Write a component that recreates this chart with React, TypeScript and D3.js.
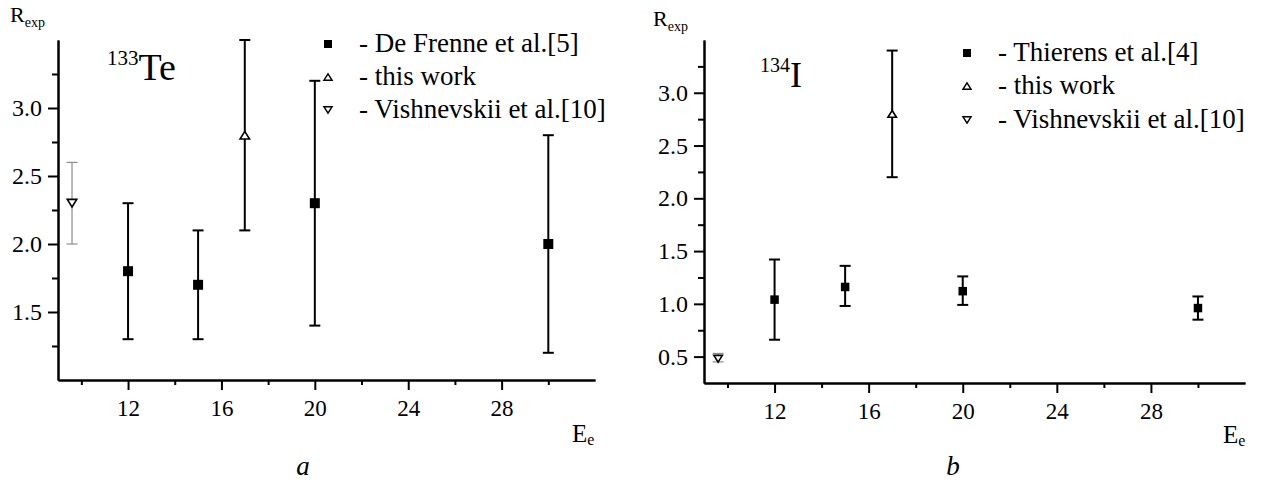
import React, { useEffect, useRef } from 'react';
import * as d3 from 'd3';

// ---- data: panel a, 133Te ----
const teFrenneE = [12, 15, 20, 30];
const teFrenneR = [1.8, 1.7, 2.3, 2.0];
const teFrenneLo = [1.3, 1.3, 1.4, 1.2];
const teFrenneHi = [2.3, 2.1, 3.2, 2.8];
const teThisE = [17];
const teThisR = [2.8];
const teThisLo = [2.1];
const teThisHi = [3.5];
const teVishE = [9.6];
const teVishR = [2.3];
const teVishLo = [2.0];
const teVishHi = [2.6];

// ---- data: panel b, 134I ----
const iThierE = [12, 15, 20, 30];
const iThierR = [1.04, 1.16, 1.12, 0.96];
const iThierLo = [0.66, 0.98, 0.99, 0.85];
const iThierHi = [1.42, 1.36, 1.26, 1.07];
const iThisE = [17];
const iThisR = [2.8];
const iThisLo = [2.2];
const iThisHi = [3.4];
const iVishE = [9.6];
const iVishR = [0.48];
const iVishLo = [0.45];
const iVishHi = [0.53];

const xMajor = [12, 16, 20, 24, 28];
const xMinor = [10, 14, 18, 22, 26, 30];
const teYMajor = [1.5, 2.0, 2.5, 3.0];
const teYMinor = [1.25, 1.75, 2.25, 2.75, 3.25];
const iYMajor = [0.5, 1.0, 1.5, 2.0, 2.5, 3.0];
const iYMinor = [0.75, 1.25, 1.75, 2.25, 2.75, 3.25];

const teLegend = ['- De Frenne et al.[5]', '- this work', '- Vishnevskii et al.[10]'];
const iLegend = ['- Thierens et al.[4]', '- this work', '- Vishnevskii et al.[10]'];

const FONT = "'Liberation Serif', 'Times New Roman', serif";

const zip = (e, r, lo, hi) => e.map((v, i) => ({ e: v, r: r[i], lo: lo[i], hi: hi[i] }));

const panels = [
  {
    xRange: [58, 595], yRange: [380, 40], yDomain: [1.0, 3.5],
    yMajor: teYMajor, yMinor: teYMinor,
    main: zip(teFrenneE, teFrenneR, teFrenneLo, teFrenneHi),
    mine: zip(teThisE, teThisR, teThisLo, teThisHi),
    vish: zip(teVishE, teVishR, teVishLo, teVishHi),
    sq: 10, tri: 9.5,
    legend: teLegend, legX: 328, legTextX: 359, legY: [52, 85, 118],
    iso: { sup: '133', el: 'Te', x: 107, supY: 65, y: 80, supSize: 21, size: 38 },
    rLabel: { x: 10, y: 22 }, eLabel: { x: 572, y: 442 }, letter: { t: 'a', x: 303, y: 475 },
  },
  {
    xRange: [704, 1245], yRange: [383, 40], yDomain: [0.25, 3.5],
    yMajor: iYMajor, yMinor: iYMinor,
    main: zip(iThierE, iThierR, iThierLo, iThierHi),
    mine: zip(iThisE, iThisR, iThisLo, iThisHi),
    vish: zip(iVishE, iVishR, iVishLo, iVishHi),
    sq: 8.5, tri: 8.5,
    legend: iLegend, legX: 967, legTextX: 998, legY: [61, 94, 128],
    iso: { sup: '134', el: 'I', x: 760, supY: 72, y: 87, supSize: 20, size: 36 },
    rLabel: { x: 653, y: 26 }, eLabel: { x: 1223, y: 443 }, letter: { t: 'b', x: 953, y: 475 },
  },
];

const triPath = (s, up) => {
  const h = s * 0.8;
  return up
    ? `M0,${-h / 2}L${s / 2},${h / 2}L${-s / 2},${h / 2}Z`
    : `M0,${h / 2}L${s / 2},${-h / 2}L${-s / 2},${-h / 2}Z`;
};

function drawPanel(svg, p) {
  const g = svg.append('g');
  const x = d3.scaleLinear().domain([9, 32]).range(p.xRange);
  const y = d3.scaleLinear().domain(p.yDomain).range(p.yRange);
  const x0 = p.xRange[0];
  const y0 = p.yRange[0];

  // axes
  const styleAxis = (fs) => (sel) => {
    sel.attr('font-family', null);
    sel.selectAll('path').attr('stroke', '#000').attr('stroke-width', 2);
    sel.selectAll('line').attr('stroke', '#000').attr('stroke-width', 2);
    sel.selectAll('text').style('font-family', FONT).style('font-size', `${fs}px`).attr('fill', '#000');
  };
  g.append('g').attr('transform', `translate(0,${y0})`)
    .call(d3.axisBottom(x).tickValues(xMinor).tickSize(5).tickFormat(() => '').tickSizeOuter(0))
    .call(styleAxis(23));
  g.append('g').attr('transform', `translate(0,${y0})`)
    .call(d3.axisBottom(x).tickValues(xMajor).tickSize(10).tickPadding(10).tickSizeOuter(0))
    .call(styleAxis(23));
  g.append('g').attr('transform', `translate(${x0},0)`)
    .call(d3.axisLeft(y).tickValues(p.yMinor).tickSize(6).tickFormat(() => '').tickSizeOuter(0))
    .call(styleAxis(24));
  g.append('g').attr('transform', `translate(${x0},0)`)
    .call(d3.axisLeft(y).tickValues(p.yMajor).tickSize(10).tickPadding(6).tickFormat(d3.format('.1f')).tickSizeOuter(0))
    .call(styleAxis(24));
  g.selectAll('.domain').attr('fill', 'none');

  // error bars
  const errBars = (data, color, width) => {
    const eb = g.append('g').attr('stroke', color).attr('stroke-width', width);
    data.forEach((d) => {
      eb.append('line').attr('x1', x(d.e)).attr('x2', x(d.e)).attr('y1', y(d.lo)).attr('y2', y(d.hi));
      [d.lo, d.hi].forEach((v) => {
        eb.append('line').attr('x1', x(d.e) - 5.5).attr('x2', x(d.e) + 5.5).attr('y1', y(v)).attr('y2', y(v));
      });
    });
  };
  errBars(p.main, '#000', 2);
  errBars(p.mine, '#000', 2);
  errBars(p.vish, '#8c8c8c', 1.2);

  // markers
  g.selectAll('.sq').data(p.main).enter().append('rect')
    .attr('x', (d) => x(d.e) - p.sq / 2).attr('y', (d) => y(d.r) - p.sq / 2)
    .attr('width', p.sq).attr('height', p.sq).attr('fill', '#000');
  g.selectAll('.up').data(p.mine).enter().append('path')
    .attr('transform', (d) => `translate(${x(d.e)},${y(d.r)})`)
    .attr('d', triPath(p.tri, true)).attr('fill', '#fff').attr('stroke', '#000').attr('stroke-width', 1.6);
  g.selectAll('.dn').data(p.vish).enter().append('path')
    .attr('transform', (d) => `translate(${x(d.e)},${y(d.r)})`)
    .attr('d', triPath(p.tri, false)).attr('fill', '#fff').attr('stroke', '#000').attr('stroke-width', 1.6);

  // legend
  const leg = g.append('g').style('font-family', FONT).style('font-size', '27px');
  p.legend.forEach((t, i) => {
    const cy = p.legY[i] - 8;
    if (i === 0) {
      leg.append('rect').attr('x', p.legX - 4).attr('y', cy - 4).attr('width', 8).attr('height', 8).attr('fill', '#000');
    } else {
      leg.append('path').attr('transform', `translate(${p.legX},${cy})`)
        .attr('d', triPath(8, i === 1)).attr('fill', '#fff').attr('stroke', '#000').attr('stroke-width', 1.5);
    }
    leg.append('text').attr('x', p.legTextX).attr('y', p.legY[i]).text(t);
  });

  // isotope label
  const iso = g.append('text').style('font-family', FONT).attr('x', p.iso.x).attr('y', p.iso.y);
  iso.append('tspan').style('font-size', `${p.iso.supSize}px`).attr('y', p.iso.supY).text(p.iso.sup);
  iso.append('tspan').style('font-size', `${p.iso.size}px`).attr('y', p.iso.y).text(p.iso.el);

  // axis titles
  const r = g.append('text').style('font-family', FONT).style('font-size', '22px')
    .attr('x', p.rLabel.x).attr('y', p.rLabel.y);
  r.append('tspan').text('R');
  r.append('tspan').style('font-size', '14px').attr('dy', 5).text('exp');
  const e = g.append('text').style('font-family', FONT).style('font-size', '25px')
    .attr('x', p.eLabel.x).attr('y', p.eLabel.y);
  e.append('tspan').text('E');
  e.append('tspan').style('font-size', '16px').attr('dy', 3).text('e');
  g.append('text').style('font-family', FONT).style('font-style', 'italic').style('font-size', '27px')
    .attr('x', p.letter.x).attr('y', p.letter.y).attr('text-anchor', 'middle').text(p.letter.t);
}

export default function App() {
  const node = useRef(null);
  useEffect(() => {
    const svg = d3.select(node.current);
    svg.selectAll('*').remove();
    panels.forEach((p) => drawPanel(svg, p));
  }, []);
  return (
    <svg ref={node} width={1269} height={484}
      style={{ position: 'absolute', left: 0, top: 0, background: '#fff', fontFamily: FONT }} />
  );
}
